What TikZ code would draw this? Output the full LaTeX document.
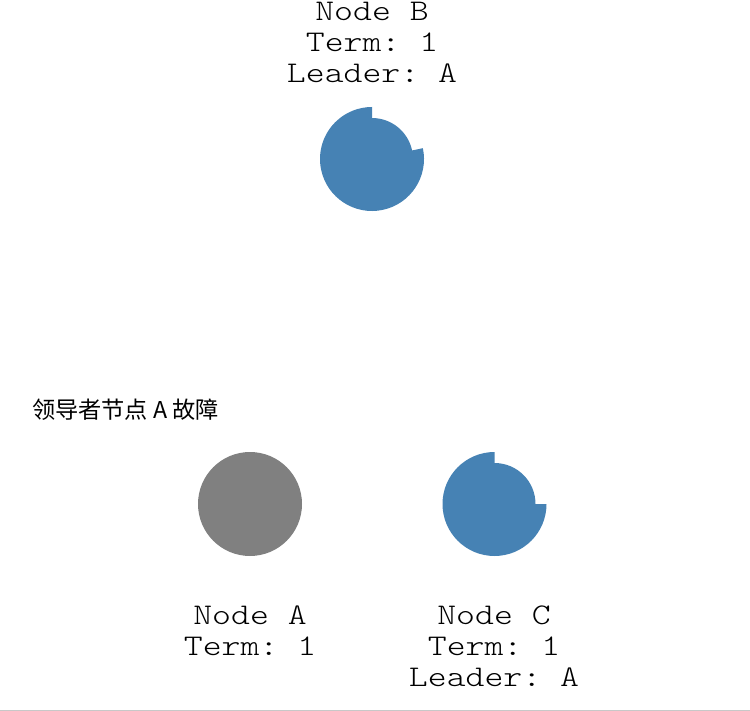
\documentclass[tikz,border=0pt]{standalone}
\usepackage{fontspec}
\setmonofont[FakeStretch=1.2]{Latin Modern Mono Light}
\newfontfamily\cjk{Noto Sans CJK SC}
\definecolor{nodeblue}{HTML}{4682B4}
\definecolor{deadgray}{HTML}{808080}
\definecolor{rulegray}{HTML}{C8C8C8}
\begin{document}
\begin{tikzpicture}[x=1pt,y=-1pt,
  lbl/.style={font=\ttfamily\fontsize{30}{31}\selectfont, inner sep=0pt, anchor=base},
  note/.style={font=\cjk\fontsize{23.2}{26}\selectfont, inner sep=0pt, anchor=base west}]
\useasboundingbox (0,0) rectangle (750,711);
% Node B (y axis points down: visual angle phi = -theta)
\coordinate (cB) at (372,159);
\fill[nodeblue] ([shift={(-90:41)}]cB) arc[start angle=-90,end angle=-12,radius=41]
  -- ([shift={(-12:52)}]cB) arc[start angle=-12,end angle=270,radius=52] -- cycle;
\node[lbl] (b1) at (372,21) {Node B};
\node[lbl] (b2) at (372,52) {Term: 1};
\node[lbl] (b3) at (372,83) {Leader: A};
% Node A
\coordinate (cA) at (250,504);
\fill[deadgray] (cA) circle[radius=52];
\node[lbl] (a1) at (250,624) {Node A};
\node[lbl] (a2) at (250,655) {Term: 1};
% Node C
\coordinate (cC) at (494.5,504);
\fill[nodeblue] ([shift={(-90:41)}]cC) arc[start angle=-90,end angle=0,radius=41]
  -- ([shift={(0:52)}]cC) arc[start angle=0,end angle=270,radius=52] -- cycle;
\node[lbl] (c1) at (494,624) {Node C};
\node[lbl] (c2) at (494,655) {Term: 1};
\node[lbl] (c3) at (494,686) {Leader: A};
% note
\node[note] (msg) at (32,418) {领导者节点 A 故障};
% bottom rule
\coordinate (r1) at (0,710);
\coordinate (r2) at (750,710);
\draw[rulegray, line width=1pt] (r1) -- (r2);
\end{tikzpicture}
\end{document}
